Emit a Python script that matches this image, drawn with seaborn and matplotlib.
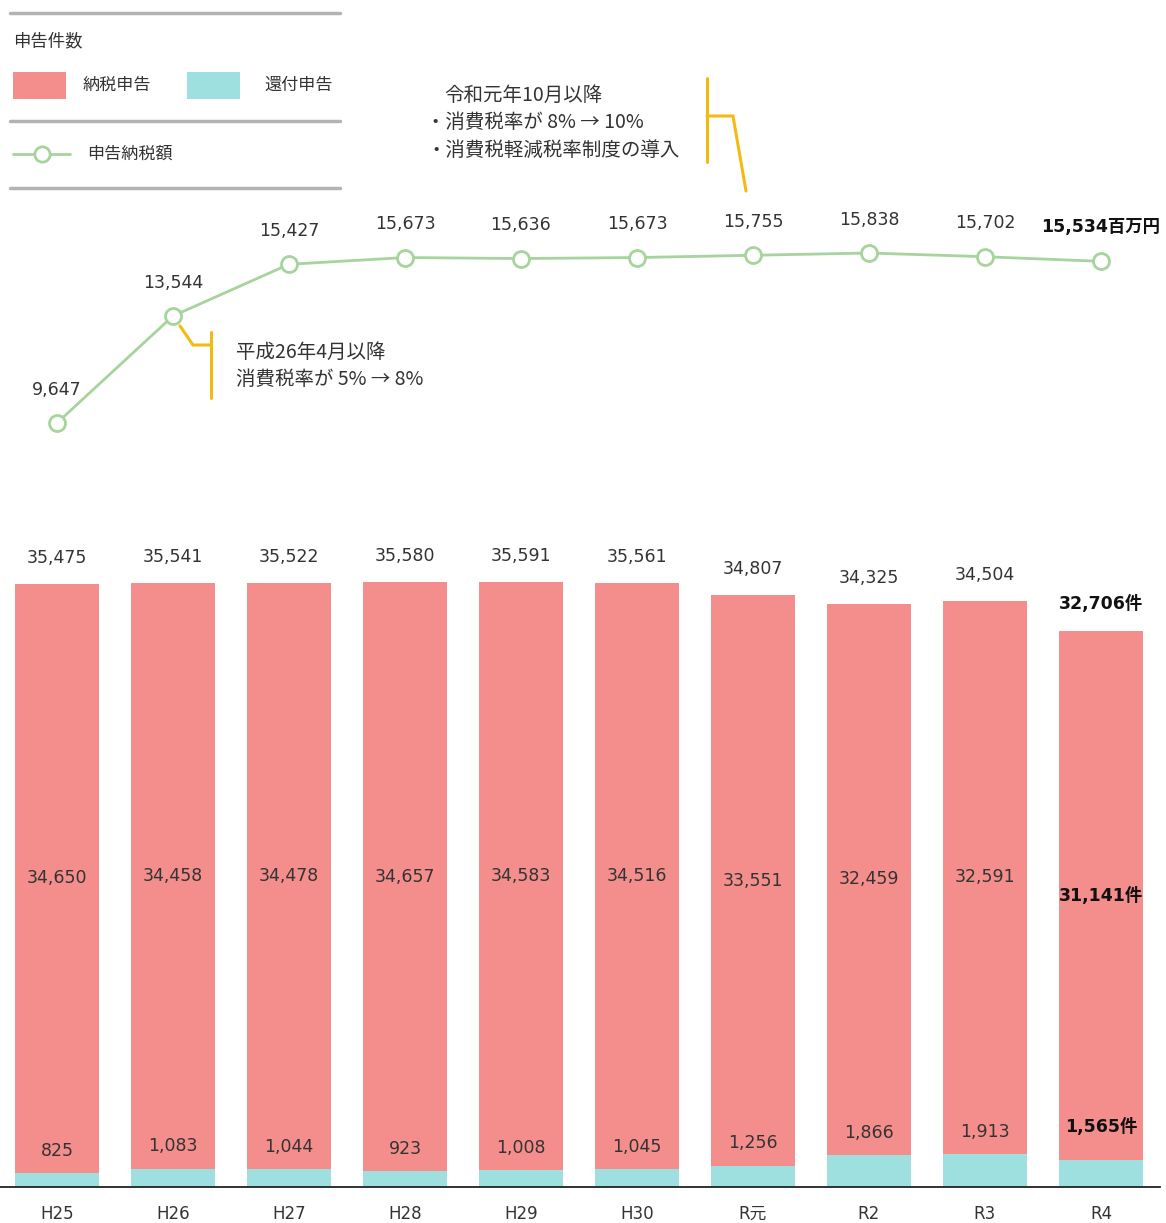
import matplotlib
matplotlib.use("Agg")
import matplotlib.pyplot as plt
from matplotlib.lines import Line2D
from matplotlib.patches import Rectangle
import numpy as np
import pandas as pd
import seaborn as sns

sns.set_theme(style="white")
plt.rcParams['font.family'] = ['Noto Sans CJK JP', 'DejaVu Sans']

# ---------------- data ----------------
years = ["H25", "H26", "H27", "H28", "H29", "H30", "R元", "R2", "R3", "R4"]
total_cases = [35475, 35541, 35522, 35580, 35591, 35561, 34807, 34325, 34504, 32706]
payment_cases = [34650, 34458, 34478, 34657, 34583, 34516, 33551, 32459, 32591, 31141]
refund_cases = [825, 1083, 1044, 923, 1008, 1045, 1256, 1866, 1913, 1565]
tax_amount = [9647, 13544, 15427, 15673, 15636, 15673, 15755, 15838, 15702, 15534]

PINK = "#F38E8C"
CYAN = "#9EDFE0"
GREEN = "#A6D49C"
ORANGE = "#F5BA12"
GRAY = "#B3B3B3"
TXT = "#333333"

W, H = 1166, 1223
fig = plt.figure(figsize=(W / 100, H / 100), dpi=100)
fig.patch.set_facecolor("white")


def P(x, y):
    return (x / W, 1 - y / H)


NUMF = ['DejaVu Sans', 'Noto Sans CJK JP']
JPF = ['Noto Sans CJK JP', 'DejaVu Sans']

n = len(years)
xlim = (-0.491, 9.509)
ax_w = 1160 / W

# ---------------- bar axis ----------------
ax = fig.add_axes([0, 36 / H, ax_w, (1187 - 540) / H])
df = pd.DataFrame({"year": years, "total": total_cases, "refund": refund_cases,
                   "payment": payment_cases})
sns.barplot(data=df, x="year", y="total", color=PINK, width=0.73, ax=ax,
            saturation=1, order=years, linewidth=0, edgecolor="none")
sns.barplot(data=df, x="year", y="refund", color=CYAN, width=0.73, ax=ax,
            saturation=1, order=years, linewidth=0, edgecolor="none")
ax.set_xlim(*xlim)
ax.set_ylim(0, 38064)
for s in ["top", "right", "left"]:
    ax.spines[s].set_visible(False)
ax.spines["bottom"].set_color("#222222")
ax.spines["bottom"].set_linewidth(1.3)
ax.set_yticks([])
ax.set_xlabel("")
ax.set_ylabel("")
ax.tick_params(axis="x", length=0, pad=13)
for lab in ax.get_xticklabels():
    lab.set_fontfamily(NUMF)
    lab.set_fontsize(12)
    lab.set_color(TXT)

for i in range(n):
    last = i == n - 1
    suf = "件" if last else ""
    fw = "bold" if last else "normal"
    col = "#111111" if last else TXT
    fs = 12.5
    ax.annotate(f"{total_cases[i]:,}{suf}", (i, total_cases[i]), xytext=(0, 19.5 if last else 18.7),
                textcoords="offset points", ha="center", va="center",
                fontsize=fs, fontweight=fw, color=col, family=NUMF)
    mid = (refund_cases[i] + total_cases[i]) / 2
    ax.text(i, mid, f"{payment_cases[i]:,}{suf}", ha="center", va="center",
            fontsize=fs, fontweight=fw, color=col, family=NUMF)
    ax.annotate(f"{refund_cases[i]:,}{suf}", (i, refund_cases[i]),
                xytext=(0, 24 if last else 16), textcoords="offset points",
                ha="center", va="center", fontsize=fs, fontweight=fw,
                color=col, family=NUMF)

# ---------------- line axis ----------------
ax2 = fig.add_axes([0, (H - 440) / H, ax_w, 240 / H])
ldf = pd.DataFrame({"x": np.arange(n), "amount": tax_amount})
sns.lineplot(data=ldf, x="x", y="amount", ax=ax2, color=GREEN, linewidth=2.0,
             marker="o", markersize=11.5, markerfacecolor="white",
             markeredgecolor=GREEN, markeredgewidth=2.0)
ax2.set_xlim(*xlim)
ax2.set_ylim(9028, 17768)
ax2.axis("off")
for i in range(n):
    last = i == n - 1
    if last:
        ax2.annotate(f"{tax_amount[i]:,}百万円", (i, tax_amount[i]), xytext=(0, 24.5),
                     textcoords="offset points", ha="center", va="center",
                     fontsize=12.5, fontweight="bold", color="#111111", family=NUMF)
    else:
        ax2.annotate(f"{tax_amount[i]:,}", (i, tax_amount[i]), xytext=(0, 24),
                     textcoords="offset points", ha="center", va="center",
                     fontsize=12.5, color=TXT, family=NUMF)

# ---------------- legend (drawn manually) ----------------
for yy in (13, 121, 188):
    fig.add_artist(Line2D([10 / W, 340 / W], [1 - yy / H] * 2, transform=fig.transFigure,
                          color=GRAY, linewidth=2.5))
fig.text(*P(13, 41), "申告件数", ha="left", va="center", fontsize=12.5, color=TXT, family=JPF)
fig.add_artist(Rectangle(P(13, 99), 53 / W, 27 / H, transform=fig.transFigure,
                         facecolor=PINK, edgecolor="none"))
fig.text(*P(83, 85), "納税申告", ha="left", va="center", fontsize=12.3, color=TXT, family=JPF)
fig.add_artist(Rectangle(P(187, 99), 53 / W, 27 / H, transform=fig.transFigure,
                         facecolor=CYAN, edgecolor="none"))
fig.text(*P(264, 85), "還付申告", ha="left", va="center", fontsize=12.3, color=TXT, family=JPF)
fig.add_artist(Line2D([13 / W, 70 / W], [1 - 154 / H] * 2, transform=fig.transFigure,
                      color=GREEN, linewidth=2.0))
fig.add_artist(Line2D([41.5 / W], [1 - 154 / H], transform=fig.transFigure,
                      color=GREEN, marker="o", markersize=11, markerfacecolor="white",
                      markeredgecolor=GREEN, markeredgewidth=2.0, linestyle="none"))
fig.text(*P(87, 154), "申告納税額", ha="left", va="center", fontsize=12.3, color=TXT, family=JPF)

# ---------------- call-out annotations ----------------
def pline(xs, ys):
    fig.add_artist(Line2D([x / W for x in xs], [1 - y / H for y in ys],
                          transform=fig.transFigure, color=ORANGE, linewidth=2.2,
                          solid_joinstyle="miter"))

pline([180, 193, 211], [326, 345, 345])
pline([211, 211], [332, 398])
fig.text(*P(236, 352), "平成26年4月以降", ha="left", va="center", fontsize=14, color=TXT, family=JPF)
fig.text(*P(236, 380), "消費税率が 5% → 8%", ha="left", va="center", fontsize=14, color=TXT, family=JPF)

pline([707, 707], [78, 162])
pline([707, 733, 746], [116, 116, 191])
fig.text(*P(444, 95), "令和元年10月以降", ha="left", va="center", fontsize=14, color=TXT, family=JPF)
fig.text(*P(426, 123), "・消費税率が 8% → 10%", ha="left", va="center", fontsize=14, color=TXT, family=JPF)
fig.text(*P(426, 150), "・消費税軽減税率制度の導入", ha="left", va="center", fontsize=14, color=TXT, family=JPF)

fig.savefig("out.png", dpi=100, facecolor="white")
